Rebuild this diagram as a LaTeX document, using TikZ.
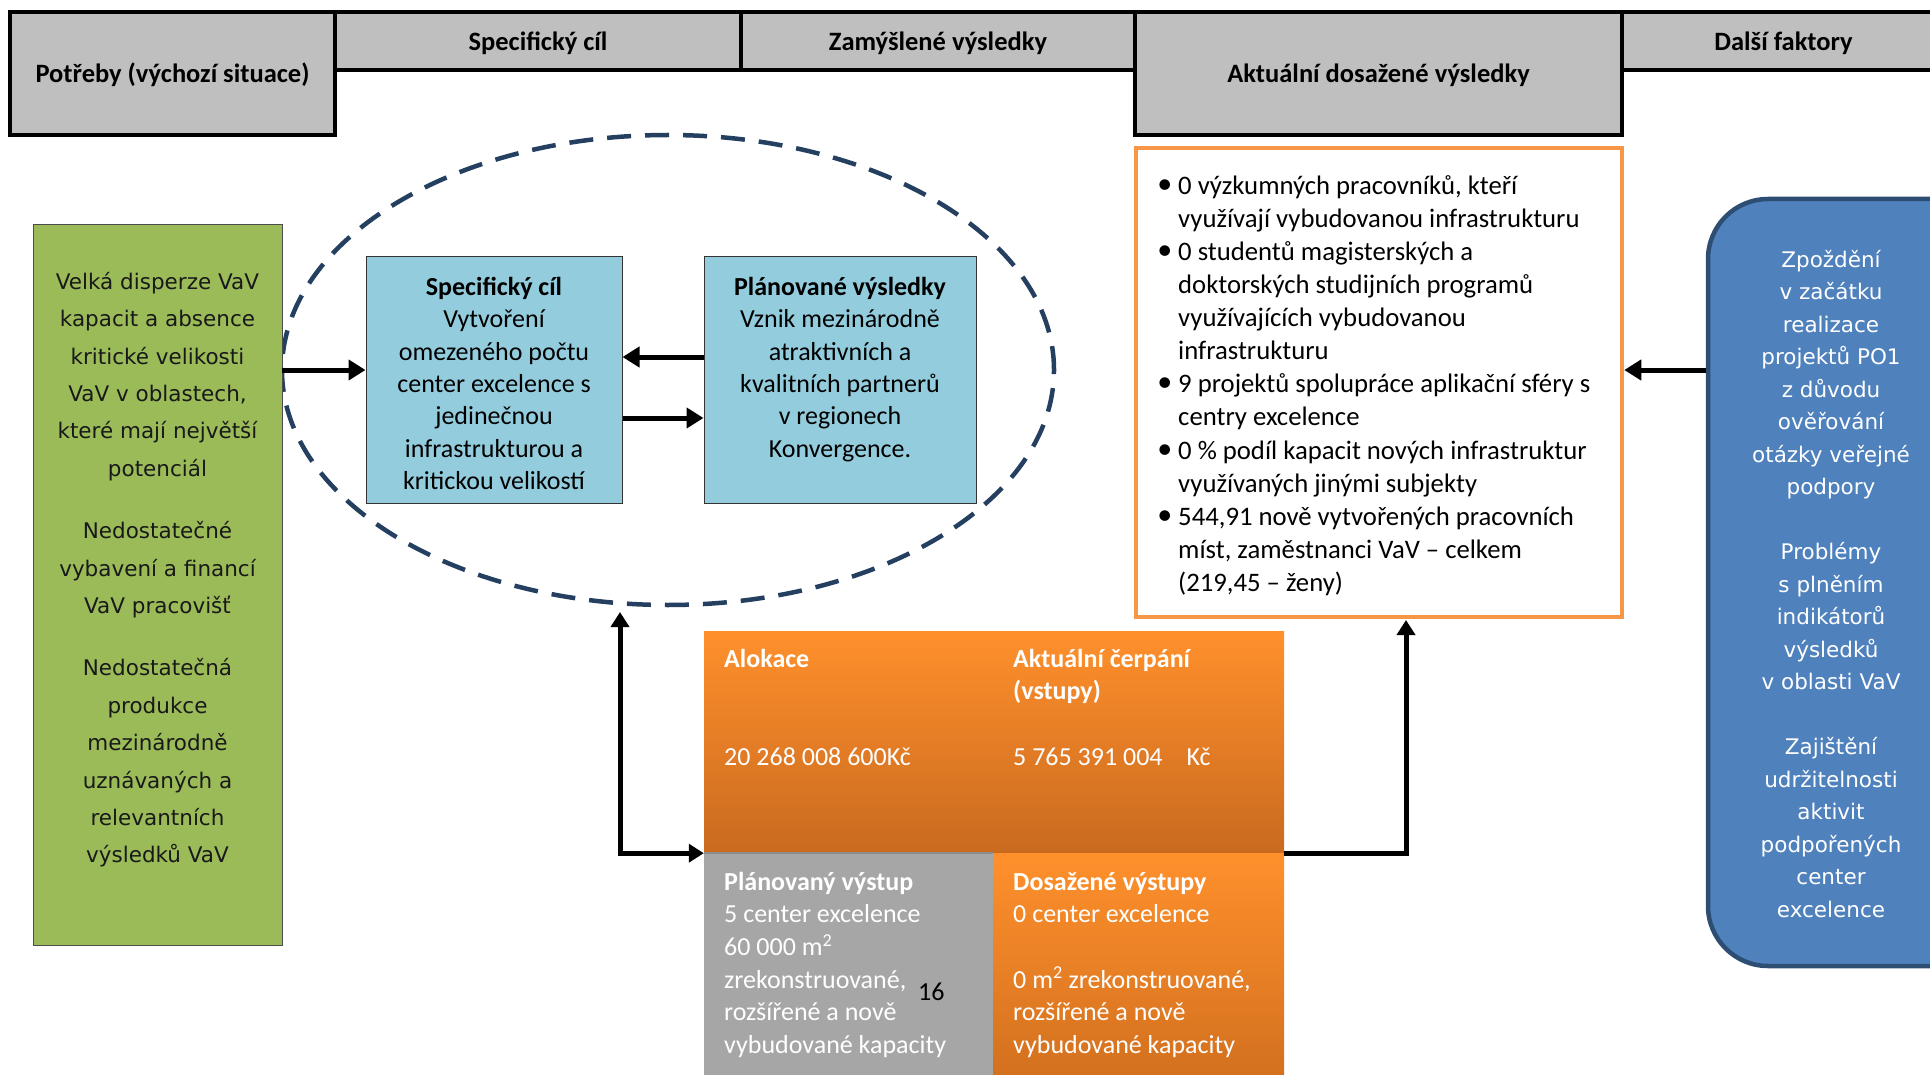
\documentclass[tikz,border=0pt]{standalone}
\usepackage{fontspec}
\setmainfont{Carlito}
\newfontfamily\dvs{DejaVu Sans}
\usetikzlibrary{arrows.meta,shapes.geometric,calc}
\definecolor{hdrgray}{HTML}{BFBFBF}
\definecolor{grn}{HTML}{9BBB59}
\definecolor{ltblue}{HTML}{93CDDD}
\definecolor{dblue}{HTML}{4F81BD}
\definecolor{dbluebd}{HTML}{2E4D73}
\definecolor{ellc}{HTML}{243F60}
\definecolor{orbd}{HTML}{F79646}
\definecolor{ortop}{HTML}{FF902C}
\definecolor{orbot}{HTML}{C96A1F}
\definecolor{orbot2}{HTML}{D3711F}
\definecolor{gry}{HTML}{A6A6A6}
\tikzset{
  hdr/.style={draw=black, line width=4pt, fill=hdrgray, inner sep=0pt,
    text height=25pt, text depth=6pt,
    font=\fontsize{26.5}{30}\selectfont\bfseries},
  lbox/.style={draw=black!80, line width=1pt, fill=ltblue, inner sep=0pt},
  boxtxt/.style={align=center, inner sep=0pt, anchor=north, font=\fontsize{26}{32.4}\selectfont},
  wtxt/.style={align=left, inner sep=0pt, anchor=north west, text=white, font=\fontsize{26}{32.6}\selectfont},
  arr/.style={line width=5pt, -{Triangle[length=17pt,width=20pt]}},
  dblarr/.style={line width=5pt, {Triangle[length=15pt,width=18pt]}-{Triangle[length=15pt,width=18pt]}},
}
\newcommand{\bl}{\llap{\raisebox{1pt}{\fontsize{30}{30}\selectfont\textbullet}\hspace{6pt}}}
\newcommand{\tr}[1]{\rule{0pt}{#1pt}}
\begin{document}
\begin{tikzpicture}[x=1pt,y=-1pt]
\clip (0,0) rectangle (1930,1075);
\fill[white] (0,0) rectangle (1930,1075);

% header
\node[hdr, minimum width=406pt, minimum height=58pt] (hSpec) at (538,41) {Specifický cíl};
\node[hdr, minimum width=394pt, minimum height=58pt] (hZam) at (938,41) {Zamýšlené výsledky};
\node[hdr, minimum width=323pt, minimum height=58pt] (hDal) at (1783.5,41) {Další faktory};
\node[hdr, minimum width=325pt, minimum height=123pt] (hPot) at (172.5,73.5) {Potřeby (výchozí situace)};
\node[hdr, minimum width=487pt, minimum height=123pt] (hAkt) at (1378.5,73.5) {Aktuální dosažené výsledky};

% dashed ellipse
\node[ellipse, draw=ellc, line width=4.5pt, dash pattern=on 24pt off 14pt, inner sep=0pt,
  minimum width=772pt, minimum height=470pt] (ell) at (668,370) {};

% green needs box
\node[draw=black!70, line width=1pt, fill=grn, minimum width=249pt, minimum height=720pt, inner sep=0pt] (need) at (157.5,585) {};
\node[align=center, inner sep=0pt, anchor=north, text=black!90, font=\dvs\fontsize{21.5}{37.4}\selectfont] (needT) at (157.5,267)
{\tr{22}Velká disperze VaV\\kapacit a absence\\kritické velikosti\\VaV v oblastech,\\které mají největší\\potenciál\\[25pt]Nedostatečné\\vybavení a financí\\VaV pracovišť\\[25pt]Nedostatečná\\produkce\\mezinárodně\\uznávaných a\\relevantních\\výsledků VaV};

% light blue boxes
\node[lbox, minimum width=256pt, minimum height=246pt] (sc) at (494,380) {};
\node[boxtxt] (scT) at (494,271) {\tr{24}\textbf{Specifický cíl}\\Vytvoření\\omezeného počtu\\center excelence s\\jedinečnou\\infrastrukturou a\\kritickou velikostí};
\node[lbox, minimum width=272pt, minimum height=246pt] (pv) at (840,380) {};
\node[boxtxt] (pvT) at (840,271) {\tr{24}\textbf{Plánované výsledky}\\Vznik mezinárodně\\atraktivních a\\kvalitních partnerů\\v regionech\\Konvergence.};

% results box
\node[draw=orbd, line width=4.5pt, fill=white, minimum width=486pt, minimum height=469pt, inner sep=0pt] (res) at (1379,382.5) {};
\node[align=left, inner sep=0pt, anchor=north west, font=\fontsize{26.7}{33.1}\selectfont] (resT) at (1178,170)
{\tr{24}\bl 0 výzkumných pracovníků, kteří\\využívají vybudovanou infrastrukturu\\
\bl 0 studentů magisterských a\\doktorských studijních programů\\využívajících vybudovanou\\infrastrukturu\\
\bl 9 projektů spolupráce aplikační sféry s\\centry excelence\\
\bl 0 \% podíl kapacit nových infrastruktur\\využívaných jinými subjekty\\
\bl 544,91 nově vytvořených pracovních\\míst, zaměstnanci VaV – celkem\\(219,45 – ženy)};

% factors box
\node[draw=dbluebd, line width=4.5pt, fill=dblue, rounded corners=60pt, minimum width=330pt, minimum height=767pt, inner sep=0pt] (fac) at (1873,582.5) {};
\node[align=center, inner sep=0pt, anchor=north, text=white, font=\dvs\fontsize{21.5}{32.5}\selectfont] (facT) at (1831,245)
{\tr{22}Zpoždění\\v začátku\\realizace\\projektů PO1\\z důvodu\\ověřování\\otázky veřejné\\podpory\\[32.5pt]Problémy\\s plněním\\indikátorů\\výsledků\\v oblasti VaV\\[32.5pt]Zajištění\\udržitelnosti\\aktivit\\podpořených\\center\\excelence};

% orange / gray block
\node[minimum width=580pt, minimum height=222pt, inner sep=0pt, top color=ortop, bottom color=orbot] (inp) at (994,742) {};
\node[minimum width=289pt, minimum height=222pt, inner sep=0pt, fill=gry] (plan) at (848.5,964) {};
\node[minimum width=291pt, minimum height=222pt, inner sep=0pt, top color=ortop, bottom color=orbot2] (ach) at (1138.5,964) {};
\draw[black!45, line width=2pt] (plan.north west) -- (plan.north east);

\node[wtxt, anchor=base west] (alT) at (724,667) {\textbf{Alokace}};
\node[wtxt, anchor=base west] (alV) at (724,765) {20 268 008 600Kč};
\node[wtxt] (crT) at (1013,643) {\tr{24}\textbf{Aktuální čerpání}\\\textbf{(vstupy)}};
\node[wtxt, anchor=base west] (crV) at (1013,765) {5 765 391 004\hspace{24pt}Kč};
\node[wtxt] (plT) at (724,866) {\tr{24}\textbf{Plánovaný výstup}\\5 center excelence\\60 000 m\textsuperscript{2}\\zrekonstruované,\\rozšířené a nově\\vybudované kapacity};
\node[inner sep=0pt, anchor=base west, font=\fontsize{26}{30}\selectfont] (fn) at (918,1000) {16};
\node[wtxt] (acT) at (1013,866) {\tr{24}\textbf{Dosažené výstupy}\\0 center excelence\\[32.6pt]0 m\textsuperscript{2} zrekonstruované,\\rozšířené a nově\\vybudované kapacity};

% connectors
\coordinate (gA) at (282,370);
\draw[arr] (gA) -- (gA -| sc.west);
\coordinate (u1) at (0,357);
\coordinate (u2) at (0,418);
\draw[arr] (pv.west |- u1) -- (sc.east |- u1);
\draw[arr] (sc.east |- u2) -- (pv.west |- u2);
\coordinate (fA) at (0,370);
\draw[arr] (fac.west |- fA) -- (res.east |- fA);
\coordinate (ellB) at (620,612);
\draw[dblarr] (ellB) |- (inp.south west);
\coordinate (resB) at (1406,620);
\draw[arr, -{Triangle[length=15pt,width=18pt]}] (inp.south east) -| (resB);
\end{tikzpicture}
\end{document}
